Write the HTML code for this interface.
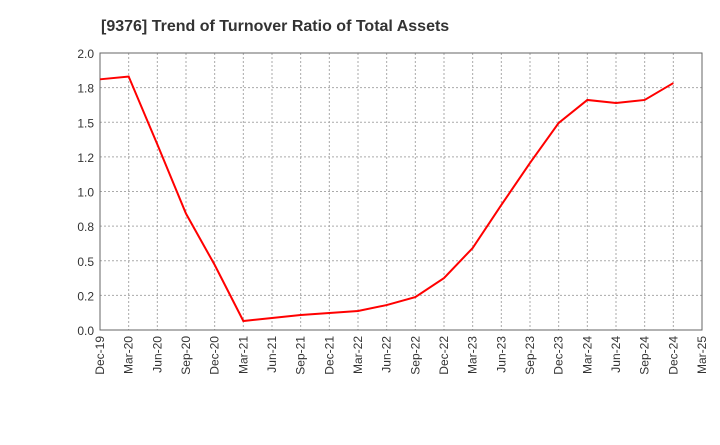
<!DOCTYPE html>
<html><head><meta charset="utf-8"><style>
body{margin:0;background:#fff;font-family:"Liberation Sans",sans-serif}
</style></head><body>
<svg id="chart" width="720" height="440" xmlns="http://www.w3.org/2000/svg">
<text x="101" y="31" font-size="16" font-weight="bold" fill="#333">[9376]  Trend of Turnover Ratio of Total Assets</text>
<g id="grid"></g><g id="axes"></g><g id="series"></g>
</svg>
<script>
const categories=["Dec-19","Mar-20","Jun-20","Sep-20","Dec-20","Mar-21","Jun-21","Sep-21","Dec-21","Mar-22","Jun-22","Sep-22","Dec-22","Mar-23","Jun-23","Sep-23","Dec-23","Mar-24","Jun-24","Sep-24","Dec-24","Mar-25"];
const values=[1.81,1.83,1.34,0.84,0.47,0.065,0.087,0.108,0.123,0.137,0.18,0.238,0.375,0.592,0.903,1.206,1.495,1.661,1.639,1.661,1.783];
const yTicks=[0,0.25,0.5,0.75,1,1.25,1.5,1.75,2];
const yTickLabels=["0.0","0.2","0.5","0.8","1.0","1.2","1.5","1.8","2.0"];
const L=100,R=702,T=53,B=330,NS="http://www.w3.org/2000/svg";
const xs=i=>L+i*(R-L)/(categories.length-1);
const ys=v=>B-v/2*(B-T);
function mk(t,a,p){const e=document.createElementNS(NS,t);for(const k in a)e.setAttribute(k,a[k]);p.appendChild(e);return e;}
const g=document.getElementById('grid'),ax=document.getElementById('axes'),s=document.getElementById('series');
yTicks.forEach((v,i)=>{
 const l=mk('line',{x1:L,x2:R,y1:ys(v),y2:ys(v),stroke:'#aaa','stroke-dasharray':'2,2','stroke-width':1},g);
 
 
 const t=mk('text',{x:L-6,y:ys(v)+5,'text-anchor':'end','font-size':12,fill:'#333'},ax);
 t.textContent=yTickLabels[i];
 
 
});
categories.forEach((c,i)=>{
 const x=xs(i);
 const l=mk('line',{x1:x,x2:x,y1:T,y2:B,stroke:'#aaa','stroke-dasharray':'2,2','stroke-width':1},g);
 
 
 const t=mk('text',{x:x+4,y:B+6,'text-anchor':'end','font-size':12,fill:'#333',transform:`rotate(-90 ${x+4} ${B+6})`},ax);
 t.textContent=c;
 
 
});
const f=mk('rect',{x:L,y:T,width:R-L,height:B-T,fill:'none',stroke:'#666'},ax);


const p=mk('polyline',{points:values.map((v,i)=>xs(i)+','+ys(v)).join(' '),fill:'none',stroke:'#f00','stroke-width':2},s);


</script>
</body></html>
